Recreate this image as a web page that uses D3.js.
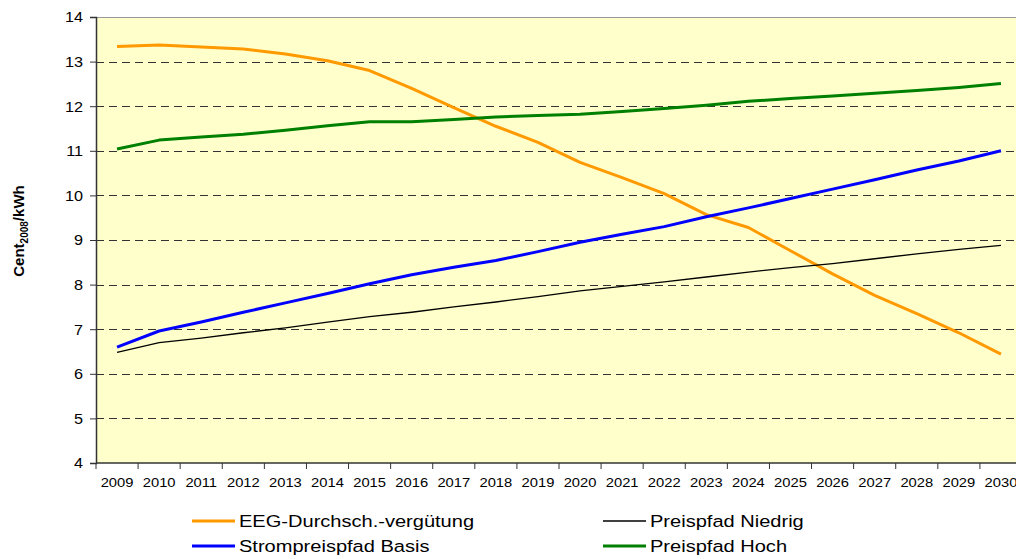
<!DOCTYPE html>
<html>
<head>
<meta charset="utf-8">
<script src="https://cdn.jsdelivr.net/npm/d3@7"></script>
<style>
  body { margin: 0; background: #fff; }
  svg { display: block; font-family: "Liberation Sans", Arial, sans-serif; }
</style>
</head>
<body>
<svg width="1016" height="559"></svg>
<script>
const years = ["2009","2010","2011","2012","2013","2014","2015","2016","2017","2018","2019",
               "2020","2021","2022","2023","2024","2025","2026","2027","2028","2029","2030"];

const eeg     = [13.34, 13.37, 13.33, 13.28, 13.17, 13.02, 12.80, 12.40, 11.97, 11.55, 11.19,
                 10.74, 10.40, 10.04, 9.57, 9.28, 8.76, 8.24, 7.76, 7.35, 6.92, 6.44];
const basis   = [6.60, 6.96, 7.16, 7.38, 7.59, 7.80, 8.02, 8.22, 8.39, 8.54, 8.74,
                 8.95, 9.13, 9.30, 9.52, 9.72, 9.93, 10.14, 10.35, 10.57, 10.77, 11.00];
const niedrig = [6.48, 6.70, 6.80, 6.92, 7.03, 7.16, 7.28, 7.38, 7.50, 7.61, 7.73,
                 7.86, 7.96, 8.06, 8.17, 8.28, 8.38, 8.47, 8.58, 8.69, 8.79, 8.88];
const hoch    = [11.04, 11.24, 11.31, 11.37, 11.46, 11.56, 11.65, 11.65, 11.70, 11.76, 11.79,
                 11.82, 11.88, 11.95, 12.02, 12.11, 12.17, 12.23, 12.29, 12.35, 12.42, 12.51];

const yTicks = [4, 5, 6, 7, 8, 9, 10, 11, 12, 13, 14];

const series = [
    { name: "EEG-Durchsch.-vergütung", values: eeg,     color: "#FF9900", width: 3 },
    { name: "Preispfad Niedrig",       values: niedrig, color: "#000000", width: 1.3 },
    { name: "Strompreispfad Basis",    values: basis,   color: "#0000FF", width: 3 },
    { name: "Preispfad Hoch",          values: hoch,    color: "#008000", width: 3 }
];

const svg = d3.select("svg");
const plot = { left: 96, top: 17, bottom: 463, right: 1022 };
const stretch = 1.18; // text in the original looks horizontally stretched

const x = d3.scaleBand().domain(years).range([plot.left, plot.right]).padding(0);
const y = d3.scaleLinear().domain([4, 14]).range([plot.bottom, plot.top]);

// plot background
svg.append("rect")
    .attr("x", plot.left).attr("y", plot.top)
    .attr("width", plot.right - plot.left).attr("height", plot.bottom - plot.top)
    .attr("fill", "#FFFFCC");

// top border
svg.append("line")
    .attr("x1", plot.left).attr("x2", plot.right)
    .attr("y1", plot.top + 0.5).attr("y2", plot.top + 0.5)
    .attr("stroke", "#999").attr("stroke-width", 1);

// dashed grid
svg.append("g")
    .selectAll("line")
    .data(yTicks.filter(d => d > 4 && d < 14))
    .join("line")
    .attr("x1", plot.left).attr("x2", plot.right)
    .attr("y1", d => Math.round(y(d)) + 0.5).attr("y2", d => Math.round(y(d)) + 0.5)
    .attr("stroke", "#333")
    .attr("stroke-width", 1)
    .attr("stroke-dasharray", "8,5");

// y axis
const yAxis = svg.append("g")
    .attr("transform", `translate(${plot.left},0)`)
    .call(d3.axisLeft(y).tickValues(yTicks).tickSize(6).tickFormat(d3.format("d")));
yAxis.select(".domain").attr("stroke", "#333").attr("stroke-width", 1.5);
yAxis.selectAll(".tick line").attr("stroke", "#333");
yAxis.selectAll("text")
    .attr("x", 0)
    .attr("transform", "translate(-13,0) scale(1.08,1)")
    .attr("font-size", 15).attr("fill", "#000")
    .attr("font-family", "'Liberation Sans', Arial, sans-serif");

// x axis labels
const xAxis = svg.append("g")
    .attr("transform", `translate(0,${plot.bottom})`)
    .call(d3.axisBottom(x).tickSize(0).tickPadding(15));
xAxis.select(".domain").remove();
xAxis.selectAll("text")
    .attr("transform", `scale(${stretch},1)`)
    .attr("font-size", 12.5).attr("fill", "#000")
    .attr("font-family", "'Liberation Sans', Arial, sans-serif");

// x axis line and boundary ticks
svg.append("line")
    .attr("x1", plot.left).attr("x2", plot.right)
    .attr("y1", plot.bottom).attr("y2", plot.bottom)
    .attr("stroke", "#333").attr("stroke-width", 1.5);
svg.append("g")
    .selectAll("line")
    .data(years.map(d => x(d)).concat([plot.right]))
    .join("line")
    .attr("x1", d => d).attr("x2", d => d)
    .attr("y1", plot.bottom).attr("y2", plot.bottom + 6)
    .attr("stroke", "#333");

// y axis title
svg.append("text")
    .attr("transform", "translate(24,231) rotate(-90)")
    .attr("text-anchor", "middle")
    .attr("font-size", 15)
    .attr("font-weight", "bold")
    .call(t => {
        t.append("tspan").text("Cent");
        t.append("tspan").text("2008").attr("font-size", 10).attr("dy", 4);
        t.append("tspan").text("/kWh").attr("dy", -4);
    });

// lines
const line = d3.line()
    .x((d, i) => x(years[i]) + x.bandwidth() / 2)
    .y(d => y(d));

svg.append("g")
    .selectAll("path")
    .data(series)
    .join("path")
    .attr("d", d => line(d.values))
    .attr("fill", "none")
    .attr("stroke", d => d.color)
    .attr("stroke-width", d => d.width)
    .attr("stroke-linejoin", "round");

// legend
const legendPos = [[192, 521], [603, 521], [192, 546], [603, 546]];
const legend = svg.append("g")
    .selectAll("g")
    .data(series)
    .join("g")
    .attr("transform", (d, i) => `translate(${legendPos[i][0]},${legendPos[i][1]})`);
legend.append("line")
    .attr("x1", 0).attr("x2", 43)
    .attr("stroke", d => d.color)
    .attr("stroke-width", d => d.width);
legend.append("text")
    .attr("transform", `translate(47,0) scale(${stretch},1)`)
    .attr("dy", "0.35em")
    .attr("font-size", 17)
    .attr("fill", "#000")
    .text(d => d.name);
</script>
</body>
</html>
